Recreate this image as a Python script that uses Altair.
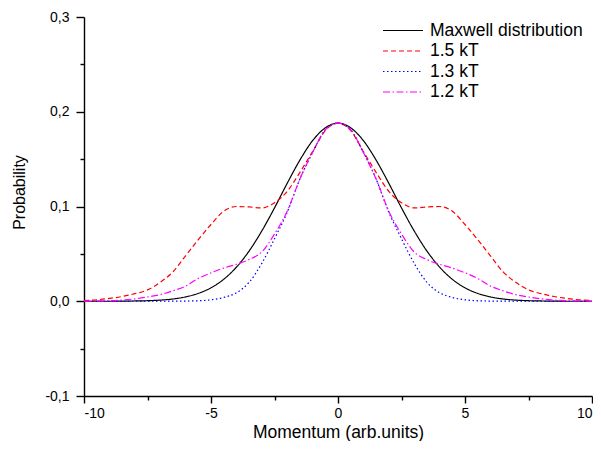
import altair as alt
import pandas as pd

# |momentum| sample positions (curves are symmetric about 0)
abs_x = [0.0, 0.5, 1.0, 1.5, 2.0, 2.5, 3.0, 3.5, 4.0, 4.5, 5.0,
         5.5, 6.0, 6.5, 7.0, 7.5, 8.0, 8.5, 9.0, 9.5, 10.0]

maxwell = [0.188, 0.183, 0.1695, 0.149, 0.1245, 0.0985, 0.0742, 0.053, 0.036, 0.0232, 0.0142,
           0.0083, 0.0046, 0.0024, 0.0012, 0.0006, 0.0003, 0.0001, 0.0, 0.0, 0.0]
kt_15 = [0.188, 0.180, 0.158, 0.136, 0.116, 0.104, 0.0985, 0.0995, 0.100, 0.095, 0.081,
         0.065, 0.048, 0.031, 0.020, 0.012, 0.008, 0.005, 0.003, 0.0015, 0.0007]
kt_13 = [0.188, 0.181, 0.157, 0.129, 0.094, 0.066, 0.040, 0.020, 0.009, 0.004, 0.0015,
         0.0005, 0.0002, 0.0001, 0.0, 0.0, 0.0, 0.0, 0.0, 0.0, 0.0]
kt_12 = [0.188, 0.181, 0.157, 0.129, 0.095, 0.071, 0.052, 0.044, 0.039, 0.035, 0.030,
         0.024, 0.016, 0.011, 0.007, 0.0045, 0.0025, 0.0012, 0.0006, 0.0003, 0.0001]

series_names = ["Maxwell distribution", "1.5 kT", "1.3 kT", "1.2 kT"]
series_values = [maxwell, kt_15, kt_13, kt_12]
series_colors = ["#000000", "#FF0000", "#0000FF", "#FF00FF"]
series_dashes = [[1, 0], [5, 3], [1.5, 2.5], [7, 2.5, 1.5, 2.5]]

x_major = [-10, -5, 0, 5, 10]
x_minor = [-7.5, -2.5, 2.5, 7.5]
y_major = [-0.1, 0.0, 0.1, 0.2, 0.3]
y_minor = [-0.05, 0.05, 0.15, 0.25]

rows = []
for name, vals in zip(series_names, series_values):
    xs = [-v for v in reversed(abs_x[1:])] + abs_x
    ys = list(reversed(vals[1:])) + vals
    for xv, yv in zip(xs, ys):
        rows.append({"x": xv, "y": yv, "series": name})
df = pd.DataFrame(rows)

FONT = "Liberation Sans"
y_label_expr = "replace(replace(format(datum.value, '.1f'), '.', ','), '\u2212', '-')"
x_label_expr = "replace(format(datum.value, 'd'), '\u2212', '-')"

x_scale = alt.Scale(domain=[-10, 10], nice=False, zero=False)
y_scale = alt.Scale(domain=[-0.1, 0.3], nice=False, zero=False)

lines = alt.Chart(df).mark_line(strokeWidth=1.2, interpolate="monotone").encode(
    x=alt.X("x:Q", scale=x_scale,
            axis=alt.Axis(values=x_major, title="Momentum (arb.units)", labelExpr=x_label_expr,
                          tickSize=7, labelPadding=3, titleFontSize=17.5, titleY=41,
                          titleBaseline="alphabetic", labelFontSize=14)),
    y=alt.Y("y:Q", scale=y_scale,
            axis=alt.Axis(values=y_major, title="Probability", labelExpr=y_label_expr,
                          tickSize=8, labelPadding=7, titleFontSize=16, titleX=-65, titleY=175,
                          titleBaseline="middle", titleAngle=-90, labelFontSize=14)),
    color=alt.Color("series:N", sort=series_names,
                    scale=alt.Scale(domain=series_names, range=series_colors),
                    legend=alt.Legend(title=None, orient="none", legendX=298, legendY=5,
                                      symbolType="stroke", symbolSize=1600, symbolStrokeWidth=1.2,
                                      clipHeight=17, rowPadding=2.5, labelOffset=6, padding=0,
                                      labelFontSize=17.5, labelFont=FONT, labelColor="black")),
    strokeDash=alt.StrokeDash("series:N", sort=series_names,
                              scale=alt.Scale(domain=series_names, range=series_dashes),
                              legend=None),
)

minor_src = pd.DataFrame({"x": x_minor, "y": y_minor})
minor = alt.Chart(minor_src).mark_point(opacity=0).encode(
    x=alt.X("x:Q", scale=x_scale,
            axis=alt.Axis(orient="bottom", values=x_minor, labels=False, domain=False,
                          title=None, tickSize=4, grid=False)),
    y=alt.Y("y:Q", scale=y_scale,
            axis=alt.Axis(orient="left", values=y_minor, labels=False, domain=False,
                          title=None, tickSize=4, grid=False)),
)

chart = alt.layer(lines, minor).resolve_axis(x="independent", y="independent").properties(
    width=508, height=379,
    autosize=alt.AutoSizeParams(type="none"),
    padding={"left": 76, "top": 9, "right": 1, "bottom": 45},
).configure_view(stroke=None).configure_axis(
    grid=False, domainColor="black", domainWidth=1.4, tickColor="black", tickWidth=1.4,
    labelFont=FONT, titleFont=FONT, labelColor="black", titleColor="black",
    titleFontWeight="normal",
)

chart.save("out.html", embed_options={"renderer": "svg", "actions": False})
